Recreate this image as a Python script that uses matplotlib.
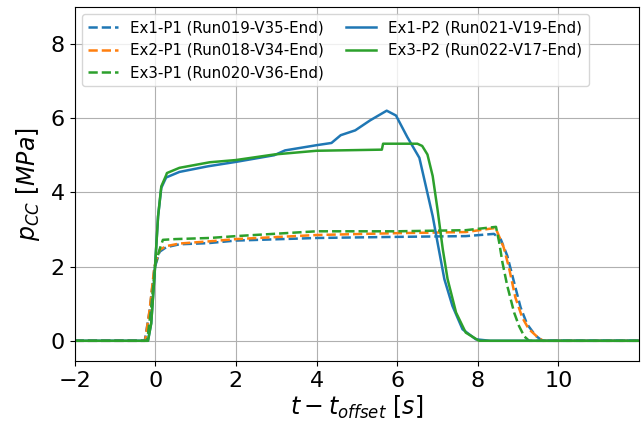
import matplotlib
matplotlib.use('Agg')
import matplotlib.pyplot as plt
import numpy as np

# Lecturas aproximadas de la figura original (tiempo [s], presion [MPa])
t_ex1_p1 = [-2.0, -0.26, -0.14, -0.02, 0.11, 0.27, 0.6, 1.3, 2.0, 4.0, 6.0, 7.7, 8.4,
            8.57, 8.73, 8.9, 9.06, 9.22, 9.43, 9.6, 12.0]
p_ex1_p1 = [0.0, 0.0, 0.8, 1.95, 2.4, 2.52, 2.6, 2.63, 2.7, 2.77, 2.8, 2.82, 2.88,
            2.73, 2.29, 1.57, 0.9, 0.45, 0.14, 0.0, 0.0]

t_ex2_p1 = [-2.0, -0.25, -0.14, -0.02, 0.11, 0.27, 0.6, 1.35, 2.0, 4.0, 6.0, 7.7, 8.44,
            8.64, 8.77, 8.93, 9.1, 9.26, 9.51, 9.63, 12.0]
p_ex2_p1 = [0.0, 0.0, 0.83, 2.0, 2.45, 2.55, 2.62, 2.68, 2.74, 2.85, 2.9, 2.93, 3.04,
            2.52, 1.98, 1.17, 0.63, 0.32, 0.07, 0.0, 0.0]

t_ex3_p1 = [-2.0, -0.2, -0.1, 0.0, 0.12, 0.19, 0.5, 1.35, 2.0, 4.0, 6.0, 7.7, 8.45,
            8.53, 8.61, 8.73, 8.9, 9.02, 9.15, 9.27, 12.0]
p_ex3_p1 = [0.0, 0.0, 0.9, 2.05, 2.5, 2.72, 2.74, 2.77, 2.82, 2.95, 2.95, 2.98, 3.07,
            2.65, 2.11, 1.48, 0.76, 0.4, 0.12, 0.0, 0.0]

t_ex1_p2 = [-2.0, -0.18, -0.1, -0.02, 0.07, 0.15, 0.27, 0.6, 1.3, 2.0, 2.95, 3.22, 4.0,
            4.37, 4.6, 4.96, 5.33, 5.74, 5.97, 6.25, 6.55, 6.71, 6.88, 7.0, 7.17,
            7.37, 7.62, 7.95, 8.3, 12.0]
p_ex1_p2 = [0.0, 0.0, 0.47, 1.73, 3.35, 4.12, 4.4, 4.55, 4.7, 4.82, 5.0, 5.13, 5.27,
            5.33, 5.54, 5.67, 5.94, 6.2, 6.07, 5.49, 4.93, 4.17, 3.36, 2.65, 1.66,
            0.94, 0.31, 0.04, 0.0, 0.0]

t_ex3_p2 = [-2.0, -0.18, -0.1, -0.02, 0.07, 0.15, 0.27, 0.29, 0.6, 1.35, 2.0, 2.95, 4.0,
            5.62, 5.65, 6.5, 6.62, 6.75, 6.88, 7.0, 7.13, 7.25, 7.46, 7.7, 8.03, 12.0]
p_ex3_p2 = [0.0, 0.0, 0.47, 1.73, 3.35, 4.16, 4.46, 4.52, 4.66, 4.81, 4.87, 5.02, 5.12,
            5.15, 5.31, 5.31, 5.25, 5.02, 4.44, 3.54, 2.47, 1.66, 0.76, 0.22, 0.0, 0.0]

fig = plt.figure(figsize=(6.43, 4.23), dpi=100)
ax = fig.add_axes([0.116, 0.147, 0.878, 0.837])

ax.plot(t_ex1_p1, p_ex1_p1, '--', color='tab:blue', lw=1.8, label='Ex1-P1 (Run019-V35-End)')
ax.plot(t_ex2_p1, p_ex2_p1, '--', color='tab:orange', lw=1.8, label='Ex2-P1 (Run018-V34-End)')
ax.plot(t_ex3_p1, p_ex3_p1, '--', color='tab:green', lw=1.8, label='Ex3-P1 (Run020-V36-End)')
ax.plot(t_ex1_p2, p_ex1_p2, '-', color='tab:blue', lw=1.8, label='Ex1-P2 (Run021-V19-End)')
ax.plot(t_ex3_p2, p_ex3_p2, '-', color='tab:green', lw=1.8, label='Ex3-P2 (Run022-V17-End)')

ax.set_xlim(-2, 12)
ax.set_ylim(-0.54, 9.0)
ax.set_xticks(np.arange(-2, 11, 2))
ax.set_yticks(np.arange(0, 9, 2))
ax.tick_params(labelsize=16)
ax.grid(True, color='#b0b0b0', lw=0.8)

ax.set_xlabel(r'$t - t_{offset}$ $[s]$', fontsize=17, labelpad=2)
ax.set_ylabel(r'$p_{CC}$ $[MPa]$', fontsize=17, labelpad=6)

ax.legend(loc='upper left', ncol=2, fontsize=10.8, handlelength=2.0, columnspacing=1.5,
          labelspacing=0.5)

plt.savefig('out.png', dpi=100)
